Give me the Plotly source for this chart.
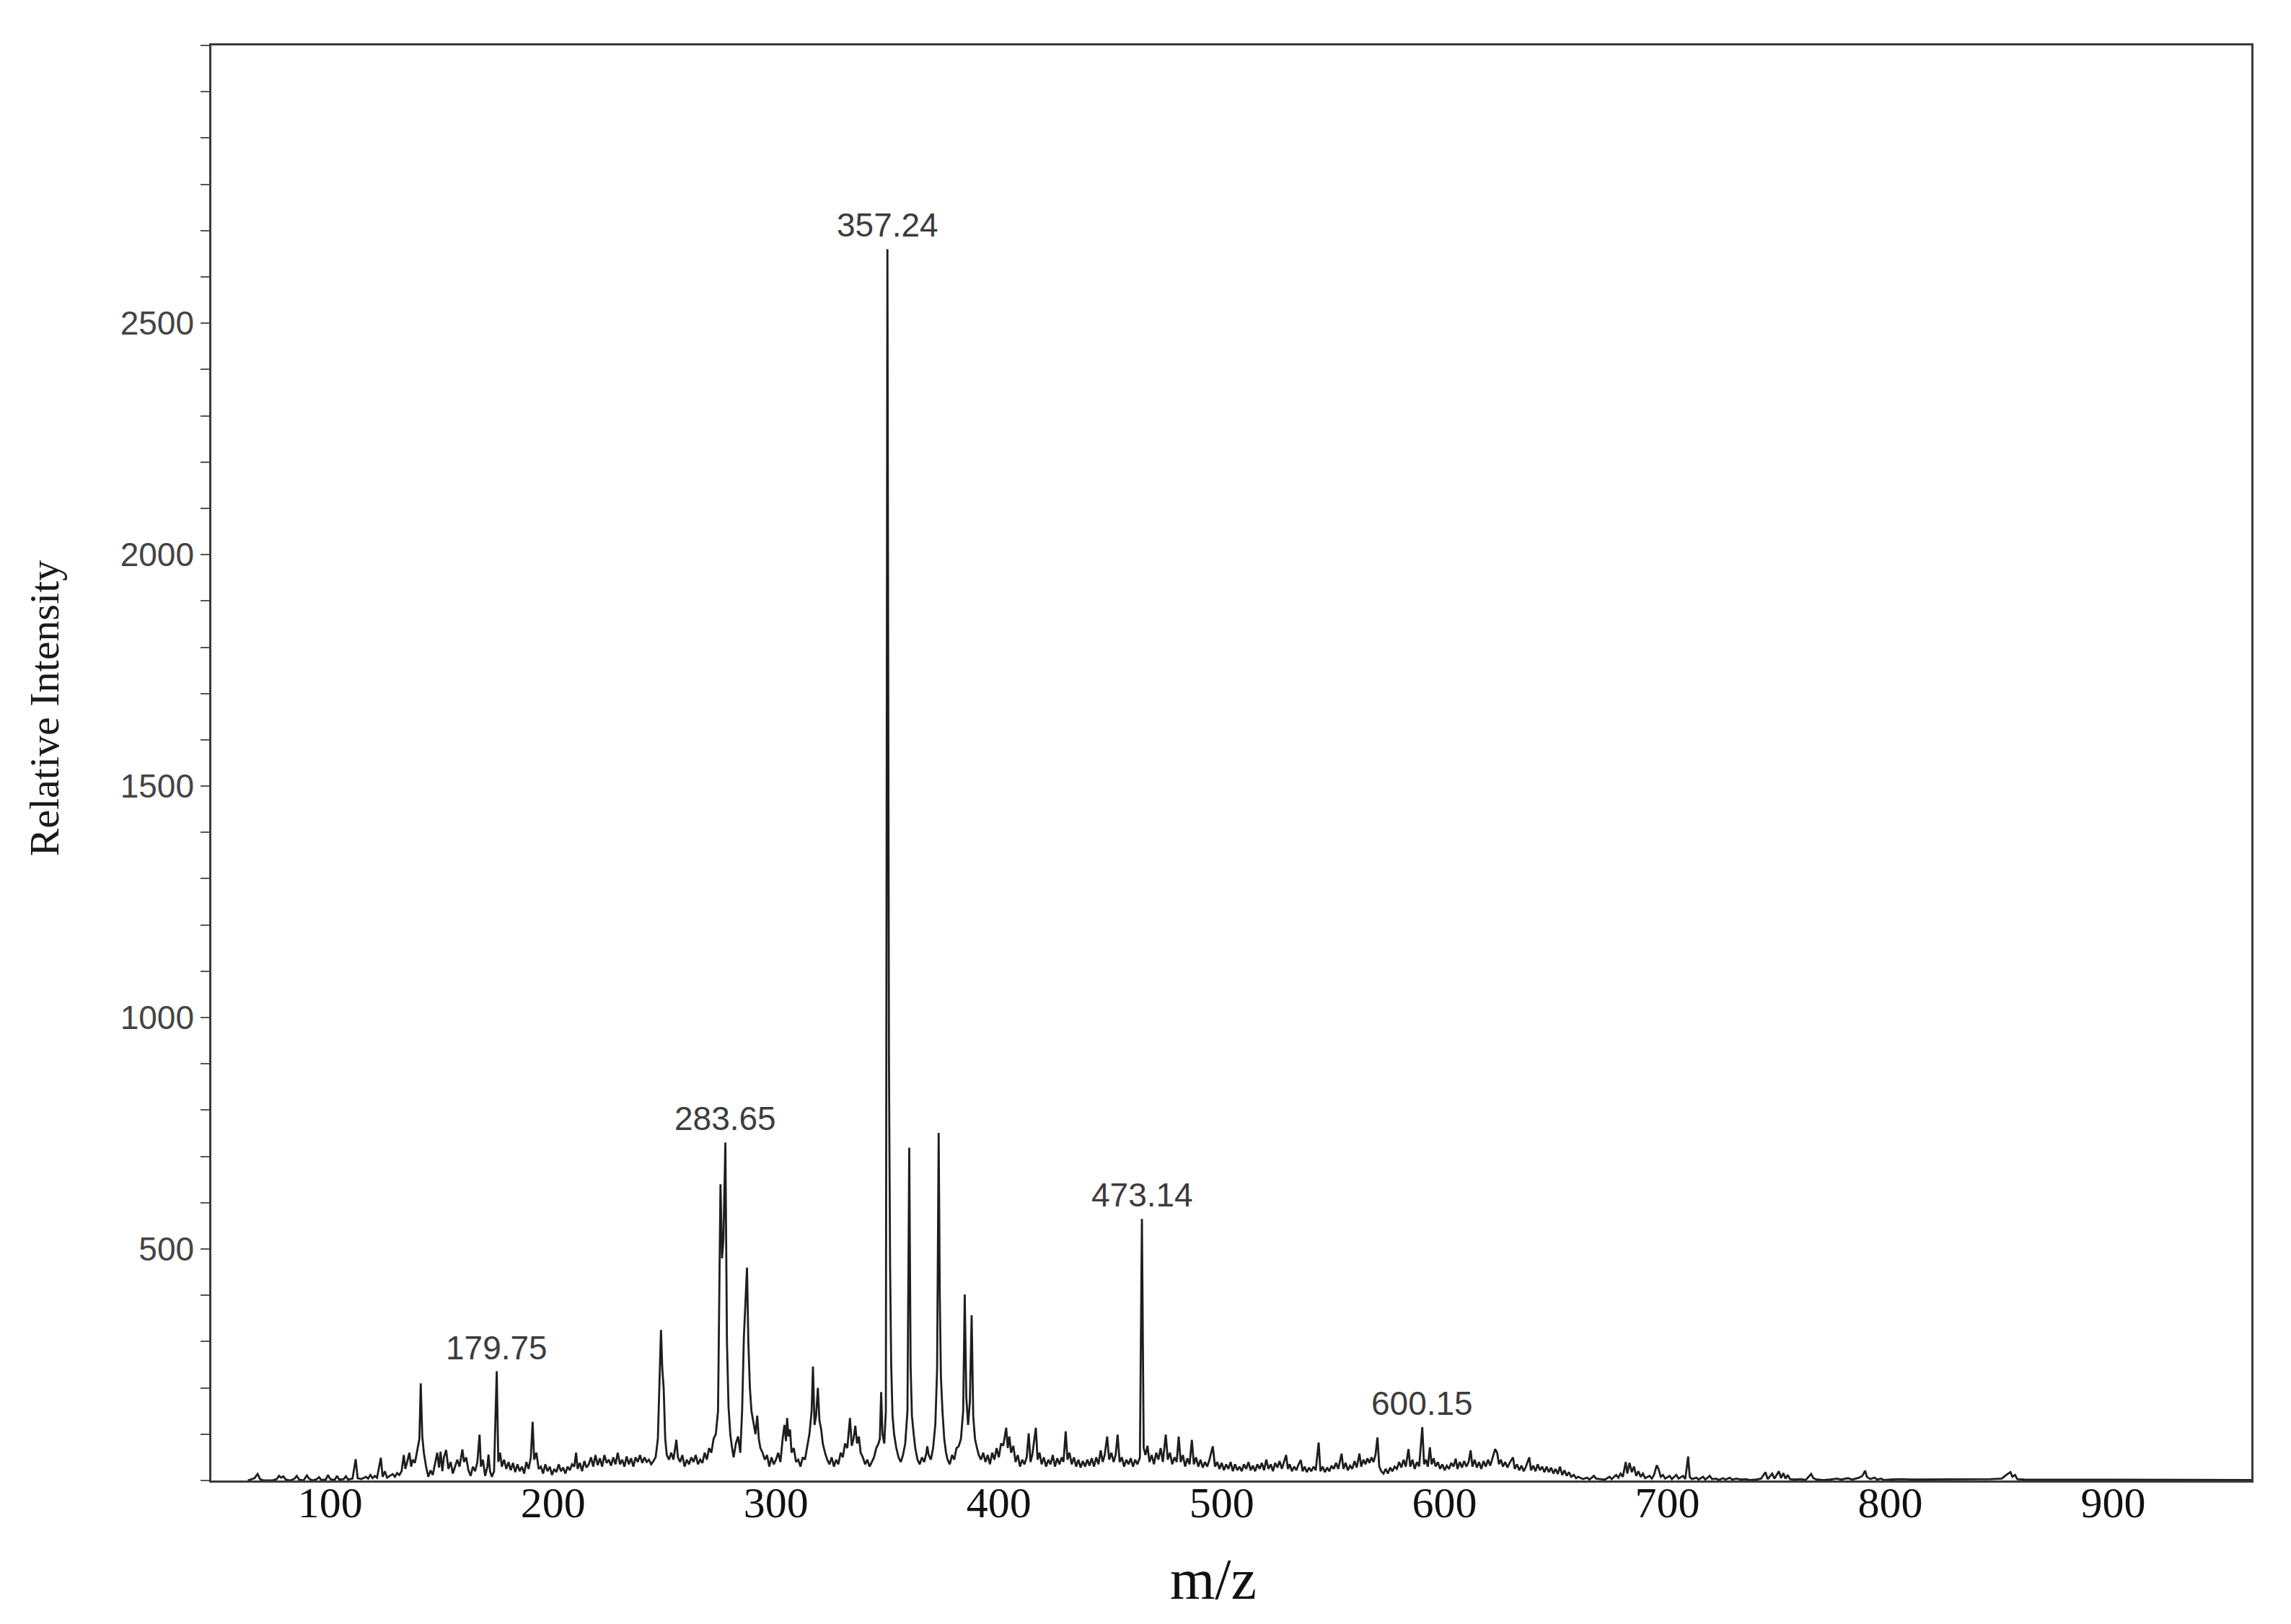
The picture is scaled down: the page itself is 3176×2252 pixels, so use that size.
import plotly.graph_objects as go

# ---- spectrum profile (m/z as placed on the drawn axis, relative intensity) ----
SEG_LOW = [(63, 0), (64.5, 3), (66, 5), (67.4, 14), (68.5, 3), (70, 0), (74, 0), (76, 3), (77, 10), (78, 6), (79, 9),
           (80, 2), (82, 0), (84, 4), (85, 10), (86, 2), (88, 0), (89.5, 11), (90.5, 4), (92, 0), (94, 3), (95, 7),
           (96, 1), (98, 2), (99, 12), (100, 3), (102, 1), (103, 10), (104, 2), (106, 3), (107, 9), (108, 2),
           (110, 4), (111.4, 46), (112.3, 5), (114, 3), (116, 8), (117, 4), (118, 12), (119, 5), (120, 10),
           (121, 6), (122.7, 49), (123.5, 8), (124.5, 20), (125.5, 6), (127, 10), (128, 14), (129, 8), (130, 16),
           (131, 12), (132, 20)]

SEG_140_180 = [(133, 55), (133.7, 25), (134.5, 40), (135.5, 60), (136.3, 30), (137, 45), (138, 38), (139, 62),
               (140, 90), (140.6, 210), (141.3, 95), (142, 60), (143, 30), (144, 8), (145, 22), (146, 12), (147, 35),
               (148, 60), (148.8, 28), (149.5, 62), (150.3, 20), (151, 50), (152, 66), (153, 25), (154, 40),
               (155, 15), (156, 30), (157, 45), (158, 30), (159.3, 67), (160, 40), (161, 50), (162, 22), (163, 10),
               (164, 30), (165, 20), (166, 40), (167, 99), (167.6, 30), (168.5, 45), (169.5, 10), (170.5, 30),
               (171, 56), (171.7, 20), (172.5, 8), (173.5, 20), (174.7, 236), (175.4, 40), (176.2, 60), (177, 30),
               (178, 45), (179, 25), (180, 40)]

SEG_180_247 = [(181, 22), (182, 38), (183, 18), (184, 35), (185, 20), (186, 30), (187, 15), (188, 40), (189, 25),
               (190, 50), (190.8, 127), (191.5, 45), (192.5, 60), (193.5, 25), (194.5, 30), (195.5, 15),
               (196.5, 35), (197.5, 20), (198.5, 30), (199.5, 12), (200.5, 25), (201.5, 18), (202.5, 35),
               (203.5, 20), (204.5, 28), (205.5, 15), (206.5, 30), (207.5, 22), (208.5, 35), (209.5, 30),
               (210.3, 60), (211, 25), (212, 38), (213, 20), (214, 42), (215, 28), (216, 35), (217, 50), (218, 30),
               (219, 55), (220, 33), (221, 48), (222, 30), (223, 55), (224, 38), (225, 45), (226, 32), (227, 50),
               (228, 35), (229, 60), (230, 35), (231, 45), (232, 30), (233, 52), (234, 35), (235, 48), (236, 30),
               (237, 50), (238, 40), (239, 55), (240, 38), (241, 50), (242, 40), (243, 45), (244, 35), (245, 42),
               (246, 50), (247, 90)]

SEG_247_300 = [(247.7, 200), (248.4, 325), (249, 240), (249.6, 200), (250.3, 90), (251, 55), (252, 45), (253, 60),
               (254, 45), (255.3, 88), (256, 50), (257, 40), (258, 55), (259, 30), (260, 45), (261, 35), (262, 50),
               (263, 40), (264, 55), (265, 35), (266, 45), (267, 38), (268, 60), (269, 45), (270, 70), (271, 60),
               (272, 90), (273, 100), (274, 150), (275.1, 640), (275.8, 480), (276.4, 520), (277.3, 730),
               (278, 300), (278.7, 160), (279.5, 100), (280.3, 70), (281, 50), (282, 80), (283, 95), (284, 60),
               (284.8, 150), (285.6, 310), (286.3, 380), (287, 460), (287.6, 300), (288.3, 200), (289, 150),
               (290, 120), (290.8, 100), (291.6, 140), (292.3, 90), (293, 70), (294, 60), (295, 45), (296, 55),
               (297, 30), (298, 50), (299, 35), (300, 45)]

SEG_300_349 = [(301, 60), (302, 40), (303, 90), (303.8, 120), (304.5, 85), (305, 135), (305.6, 95), (306.3, 110),
               (307, 60), (308, 70), (309, 40), (310, 45), (311, 30), (312, 50), (313, 45), (314, 70), (315, 100),
               (316, 150), (316.6, 246), (317.3, 120), (318, 140), (318.8, 200), (319.5, 130), (320.3, 110),
               (321, 80), (322, 60), (323, 45), (324, 35), (325, 50), (326, 30), (327, 45), (328, 35), (329, 60),
               (330, 50), (331, 80), (332, 70), (333.2, 135), (334, 75), (334.8, 90), (335.6, 118), (336.4, 80),
               (337.2, 95), (338, 60), (339, 50), (340, 35), (341, 45), (342, 30), (343, 40), (344, 50), (345, 70),
               (346, 80), (346.6, 90), (347.2, 191), (347.8, 100), (348.6, 80), (349.3, 150)]

SEG_350_400 = [(350, 2660), (350.7, 900), (351.2, 465), (351.7, 250), (352.3, 140), (353, 100), (354, 70),
               (355, 50), (356, 40), (357, 55), (358, 80), (359, 150), (359.8, 719), (360.4, 250), (361, 140),
               (361.8, 100), (362.5, 70), (363.5, 45), (364.5, 35), (365.5, 50), (366.5, 40), (367.5, 60),
               (367.9, 74), (368.5, 55), (369.5, 45), (370.5, 70), (371.5, 120), (372.3, 240), (373, 751),
               (373.5, 400), (374, 225), (374.7, 150), (375.5, 90), (376.3, 60), (377, 45), (378, 35), (379, 55),
               (380, 45), (381, 70), (382, 74), (383, 90), (384, 150), (384.7, 402), (385.4, 180), (386.2, 120),
               (387, 170), (387.8, 357), (388.5, 140), (389.3, 90), (390, 74), (391, 55), (392, 45), (393, 60),
               (394, 40), (395, 55), (396, 35), (397, 60), (398, 45), (399, 70), (400, 50)]

SEG_400_504 = [(401, 80), (402, 75), (403.3, 114), (404, 70), (404.7, 95), (405.5, 60), (406.5, 75), (407.5, 40),
               (408.5, 55), (409.5, 30), (410.5, 45), (411.5, 35), (412.5, 50), (413.4, 102), (414.2, 40), (415, 55),
               (416.6, 114), (417.4, 45), (418.3, 60), (419.2, 35), (420.2, 50), (421.2, 30), (422.2, 45),
               (423.2, 35), (424.2, 55), (425.2, 30), (426.2, 48), (427.2, 35), (428.2, 50), (429, 40), (430, 106),
               (430.8, 45), (431.7, 60), (432.7, 35), (433.7, 50), (434.7, 30), (435.7, 45), (436.7, 28),
               (437.7, 42), (438.7, 30), (439.7, 45), (440.7, 32), (441.7, 48), (442.7, 30), (443.7, 50),
               (444.7, 35), (445.7, 65), (446.6, 40), (447.5, 55), (448.6, 95), (449.5, 45), (450.5, 60),
               (451.5, 40), (452.4, 55), (453.3, 99), (454.2, 40), (455.2, 50), (456.2, 30), (457.2, 45),
               (458.2, 35), (459.2, 48), (460.2, 30), (461.2, 45), (462.2, 35), (463.3, 50), (464.2, 565),
               (465, 70), (465.8, 55), (466.7, 75), (467.6, 40), (468.6, 55), (469.6, 35), (470.6, 60), (471.6, 45),
               (472.6, 70), (473.6, 40), (474.9, 99), (475.8, 45), (476.8, 60), (477.8, 35), (478.8, 50),
               (479.8, 40), (480.7, 95), (481.6, 40), (482.6, 55), (483.6, 30), (484.6, 48), (485.6, 35),
               (486.6, 88), (487.5, 35), (488.5, 50), (489.5, 30), (490.5, 45), (491.5, 28), (492.5, 40),
               (493.5, 30), (494.5, 45), (496, 74), (497, 30), (498, 40), (499, 25), (500, 38), (501, 22), (502, 35),
               (503, 25), (504, 40)]

SEG_505_660 = [(505, 20), (506, 35), (507, 22), (508, 30), (509, 20), (510, 35), (511, 25), (512, 40), (513, 22),
               (514, 32), (515, 20), (516, 35), (517, 25), (518, 38), (519, 22), (520, 45), (521, 25), (522, 35),
               (523, 20), (524, 38), (525, 28), (526, 42), (527, 25), (528.9, 55), (529.7, 25), (530.5, 35),
               (531.5, 20), (532.5, 30), (533.5, 22), (534.5, 35), (535.5, 44), (536.3, 20), (537.2, 30),
               (538.2, 18), (539.2, 28), (540.2, 20), (541.2, 30), (542.2, 22), (543.5, 82), (544.3, 20),
               (545.3, 30), (546.3, 18), (547.3, 28), (548.3, 20), (549.3, 32), (550.3, 25), (551.3, 38),
               (552.3, 25), (553.8, 58), (554.6, 25), (555.6, 38), (556.6, 22), (557.6, 32), (558.6, 25),
               (559.6, 42), (560.6, 28), (561.8, 58), (562.6, 30), (563.6, 45), (564.5, 35), (565.4, 48),
               (566.3, 38), (567.2, 50), (568.1, 40), (569, 55), (569.9, 93), (570.7, 30), (571.6, 20), (572.6, 15),
               (573.6, 25), (574.6, 15), (575.6, 28), (576.6, 20), (577.6, 30), (578.6, 25), (579.6, 40),
               (580.6, 28), (581.6, 45), (582.6, 30), (583.8, 68), (584.6, 30), (585.6, 45), (586.6, 25),
               (587.6, 40), (588.6, 30), (590, 115), (590.8, 35), (591.6, 45), (592.5, 30), (593.4, 72),
               (594.2, 35), (595.1, 48), (596, 30), (597, 40), (598, 25), (599, 35), (600, 22), (601, 32), (602, 25),
               (603, 38), (604, 30), (605, 47), (605.8, 25), (606.8, 40), (607.8, 28), (608.8, 42), (609.8, 30),
               (610.8, 40), (611.7, 65), (612.5, 30), (613.5, 45), (614.5, 28), (615.5, 40), (616.5, 25),
               (617.5, 42), (618.5, 30), (619.5, 45), (620.5, 32), (621.6, 50), (622.7, 68), (623.6, 60),
               (624.4, 35), (625.3, 45), (626.2, 30), (627.2, 40), (628.2, 28), (629.2, 38), (630.7, 50),
               (631.5, 25), (632.5, 35), (633.5, 22), (634.5, 32), (635.5, 20), (636.5, 30), (638, 50), (638.8, 22),
               (639.8, 32), (640.8, 20), (641.8, 35), (642.8, 22), (643.8, 30), (644.8, 18), (645.8, 30),
               (646.8, 18), (647.8, 28), (648.8, 15), (649.8, 25), (650.8, 14), (651.8, 30), (652.8, 12),
               (653.8, 22), (654.8, 10), (655.8, 18), (656.8, 8), (658, 12), (659, 5), (660, 8)]

SEG_HIGH = [(662, 3), (664, 6), (665, 2), (667, 10), (668, 4), (670, 3), (672, 2), (674, 8), (675, 3), (677, 12),
            (678, 6), (679, 15), (680, 8), (681.3, 40), (682, 15), (683, 38), (684, 18), (685, 30), (686, 10),
            (687, 20), (688, 8), (689, 15), (690, 5), (692, 10), (693, 4), (694, 12), (695.2, 33), (696, 25),
            (697, 8), (698, 12), (699, 4), (701, 10), (702, 3), (704, 12), (705, 4), (707, 10), (708, 3),
            (709.3, 52), (710, 8), (711, 3), (713, 6), (714, 2), (716, 8), (717, 2), (719, 10), (720, 3), (722, 4),
            (723, 1), (725, 5), (726, 2), (728, 6), (729, 2), (731, 4), (733, 2), (735, 3), (737, 1), (740, 2),
            (742, 4), (744, 18), (745, 3), (747, 15), (748, 4), (750, 20), (751, 5), (752, 16), (753, 4), (754, 12),
            (755, 3), (757, 2), (760, 3), (762, 1), (764.5, 14), (765.5, 5), (767, 2), (770, 1), (773, 2), (776, 4),
            (778, 2), (781, 5), (783, 2), (786, 6), (787.5, 10), (788.7, 21), (789.5, 8), (791, 3), (793, 6),
            (794, 2), (796, 4), (797, 1), (800, 2), (805, 3), (810, 2), (815, 2), (820, 3), (825, 2), (830, 2),
            (835, 3), (840, 2), (845, 3), (850, 4), (852, 12), (853.9, 18), (854.8, 8), (856, 12), (857, 3),
            (860, 2), (870, 2), (880, 1), (890, 2), (900, 1), (910, 2), (920, 1), (930, 2), (940, 1), (950, 2),
            (962, 1)]

# labelled peaks
LABEL_POS = [174.7, 277.3, 350.0, 464.2, 590.0]
LABEL_HEIGHT = [236, 730, 2660, 565, 115]
LABEL_TEXT = ["179.75", "283.65", "357.24", "473.14", "600.15"]

# axes
X_TICKS = [100, 200, 300, 400, 500, 600, 700, 800, 900]
Y_TICKS = [500, 1000, 1500, 2000, 2500]
X_RANGE = [46.65, 962.0]
Y_RANGE = [0, 3100]

segments = [SEG_LOW, SEG_140_180, SEG_180_247, SEG_247_300, SEG_300_349,
            SEG_350_400, SEG_400_504, SEG_505_660, SEG_HIGH]
mz = [p[0] for s in segments for p in s]
inten = [p[1] for s in segments for p in s]

fig = go.Figure()
fig.add_trace(go.Scatter(x=mz, y=inten, mode="lines",
                         line=dict(color="#1e1e1e", width=2.8),
                         showlegend=False, hoverinfo="x+y"))

for xp, yp, txt in zip(LABEL_POS, LABEL_HEIGHT, LABEL_TEXT):
    fig.add_annotation(x=xp, y=yp, text=txt, showarrow=False,
                       xanchor="center", yanchor="middle", yshift=33,
                       font=dict(family="Liberation Sans, Arial", size=46, color="#3c3c3c"))

# axis titles
fig.add_annotation(xref="paper", yref="paper", x=-0.082, y=0.538, text="Relative Intensity",
                   textangle=-90, showarrow=False, xanchor="center", yanchor="middle",
                   font=dict(family="Liberation Serif, Times New Roman", size=58, color="#1a1a1a"))
fig.add_annotation(xref="paper", yref="paper", x=0.491, y=-0.069, text="m/z",
                   showarrow=False, xanchor="center", yanchor="middle",
                   font=dict(family="Liberation Serif, Times New Roman", size=80, color="#111111"))

fig.update_layout(
    width=3176, height=2252,
    margin=dict(l=285, r=63, t=55, b=207),
    paper_bgcolor="white", plot_bgcolor="white",
    xaxis=dict(range=X_RANGE, tickvals=X_TICKS, ticktext=[str(v) for v in X_TICKS],
               showgrid=False, zeroline=False, ticks="", showline=True, mirror=True,
               linecolor="#3a3a3a", linewidth=2.5, ticklabelstandoff=-24,
               tickfont=dict(family="Liberation Serif, Times New Roman", size=60, color="#111111")),
    yaxis=dict(range=Y_RANGE, tickvals=Y_TICKS, ticktext=[str(v) for v in Y_TICKS],
               showgrid=False, zeroline=False, ticks="outside", ticklen=12, tickwidth=2,
               tickcolor="#555555", showline=True, mirror=True,
               linecolor="#3a3a3a", linewidth=2.5,
               minor=dict(dtick=100, tick0=0, ticks="outside", ticklen=12, tickwidth=2, tickcolor="#555555"),
               tickfont=dict(family="Liberation Sans, Arial", size=46, color="#444444")),
)

fig.write_html("out.html")
